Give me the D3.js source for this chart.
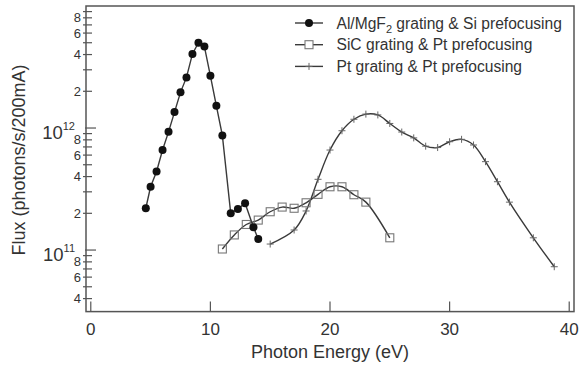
<!DOCTYPE html>
<html>
<head>
<meta charset="utf-8">
<script src="https://cdn.jsdelivr.net/npm/d3@7"></script>
<style>
  body { margin: 0; background: #fff; }
  svg { display: block; font-family: Arial, "Liberation Sans", sans-serif; }
</style>
</head>
<body>
<div id="chart"></div>
<script>
// Al/MgF2 grating & Si prefocusing
const alEnergy = [4.6, 5, 5.5, 6, 6.5, 7, 7.5, 8, 8.5, 9, 9.5, 10, 10.5, 11, 11.7, 12.3, 12.9, 13.6, 14];
const alFlux = [2.2e11, 3.3e11, 4.4e11, 6.6e11, 9.3e11, 1.35e12, 1.96e12, 2.6e12, 4.05e12, 5.0e12, 4.65e12, 2.68e12, 1.52e12, 8.7e11, 2.0e11, 2.17e11, 2.42e11, 1.54e11, 1.23e11];

// SiC grating & Pt prefocusing
const sicEnergy = [11, 12, 13, 14, 15, 16, 17, 18, 19, 20, 21, 22, 23, 25];
const sicFlux = [1.02e11, 1.33e11, 1.62e11, 1.76e11, 2.06e11, 2.25e11, 2.2e11, 2.44e11, 2.86e11, 3.3e11, 3.3e11, 2.84e11, 2.47e11, 1.26e11];

// Pt grating & Pt prefocusing
const ptEnergy = [15, 17, 18, 19, 20, 21, 22, 23, 24, 25, 26, 27, 28, 29, 30, 31, 32, 33, 34, 35, 37, 38.75];
const ptFlux = [1.12e11, 1.46e11, 2.09e11, 3.8e11, 6.6e11, 9.5e11, 1.18e12, 1.3e12, 1.28e12, 1.09e12, 9.27e11, 8.3e11, 7.1e11, 6.92e11, 7.72e11, 8.08e11, 7.26e11, 5.3e11, 3.63e11, 2.47e11, 1.26e11, 7.3e10];

const xTicks = [0, 10, 20, 30, 40];
const decadeTicks = [1e11, 1e12];
const decadeExp = ["11", "12"];
const minorLabels = [2, 4, 6, 8];

const legendLabels = ["Al/MgF", "SiC grating & Pt prefocusing", "Pt grating & Pt prefocusing"];

const width = 579, height = 368;
const margin = { top: 6, right: 5, bottom: 56.4, left: 86 };
const plotW = width - margin.left - margin.right;
const plotH = height - margin.top - margin.bottom;

const axisColor = "#555";
const lineColor = "#3a3a3a";
const textColor = "#333";

const svg = d3.select("#chart")
    .append("svg")
    .attr("width", width)
    .attr("height", height);

const g = svg.append("g")
    .attr("transform", `translate(${margin.left},${margin.top})`);

const xScale = d3.scaleLinear()
    .domain([-0.4, 40.4])
    .range([0, plotW]);

const yScale = d3.scaleLog()
    .domain([3.13e10, 1e13])
    .range([plotH, 0]);

// minor/major y ticks (inward)
const yMinor = [];
[1e10, 1e11, 1e12].forEach(dec => {
    for (let k = 1; k <= 9; k++) {
        const v = k * dec;
        if (v >= yScale.domain()[0] && v <= yScale.domain()[1]) yMinor.push({ v, k });
    }
});

g.selectAll(".ytick")
    .data(yMinor)
    .enter()
    .append("line")
    .attr("x1", d => d.k === 1 ? -1 : -3)
    .attr("x2", d => d.k === 1 ? 10 : 6)
    .attr("y1", d => yScale(d.v))
    .attr("y2", d => yScale(d.v))
    .attr("stroke", axisColor)
    .attr("stroke-width", 1.2);

g.selectAll(".ylabel-minor")
    .data(yMinor.filter(d => minorLabels.includes(d.k)))
    .enter()
    .append("text")
    .attr("x", -5)
    .attr("y", d => yScale(d.v) + 4.5)
    .attr("text-anchor", "end")
    .attr("font-size", "13px")
    .attr("fill", textColor)
    .text(d => d.k);

const decLabels = g.selectAll(".ylabel-dec")
    .data(decadeTicks)
    .enter()
    .append("text")
    .attr("x", -11)
    .attr("y", d => yScale(d) + 11)
    .attr("text-anchor", "end")
    .attr("font-size", "18.5px")
    .attr("fill", textColor);
decLabels.append("tspan").text("10");
decLabels.append("tspan")
    .attr("dy", -9)
    .attr("font-size", "11px")
    .text((d, i) => decadeExp[i]);

// x ticks (inward)
g.selectAll(".xtick")
    .data(xTicks)
    .enter()
    .append("line")
    .attr("x1", d => xScale(d))
    .attr("x2", d => xScale(d))
    .attr("y1", plotH)
    .attr("y2", plotH - 10)
    .attr("stroke", axisColor)
    .attr("stroke-width", 1.2);

g.selectAll(".xlabel")
    .data(xTicks)
    .enter()
    .append("text")
    .attr("x", d => xScale(d))
    .attr("y", plotH + 23.5)
    .attr("text-anchor", "middle")
    .attr("font-size", "17px")
    .attr("fill", textColor)
    .text(d => d);

// frame
g.append("rect")
    .attr("width", plotW)
    .attr("height", plotH)
    .attr("fill", "none")
    .attr("stroke", axisColor)
    .attr("stroke-width", 1.5);

// axis titles
svg.append("text")
    .attr("x", margin.left + xScale(20))
    .attr("y", 358)
    .attr("text-anchor", "middle")
    .attr("font-size", "18px")
    .attr("fill", textColor)
    .text("Photon Energy (eV)");

svg.append("text")
    .attr("transform", "translate(25,160) rotate(-90)")
    .attr("text-anchor", "middle")
    .attr("font-size", "18px")
    .attr("fill", textColor)
    .text("Flux (photons/s/200mA)");

// series
const toPoints = (xs, ys) => xs.map((x, i) => ({ x, y: ys[i] }));
const alData = toPoints(alEnergy, alFlux);
const sicData = toPoints(sicEnergy, sicFlux);
const ptData = toPoints(ptEnergy, ptFlux);

const straight = d3.line().x(d => xScale(d.x)).y(d => yScale(d.y));
const smooth = d3.line().x(d => xScale(d.x)).y(d => yScale(d.y)).curve(d3.curveCatmullRom.alpha(0.5));

g.append("path")
    .datum(ptData)
    .attr("d", smooth)
    .attr("fill", "none")
    .attr("stroke", lineColor)
    .attr("stroke-width", 1.4);

g.selectAll(".pt")
    .data(ptData)
    .enter()
    .append("path")
    .attr("d", d => {
        const cx = xScale(d.x), cy = yScale(d.y);
        return `M${cx - 3.5},${cy}H${cx + 3.5}M${cx},${cy - 3.5}V${cy + 3.5}`;
    })
    .attr("stroke", "#666")
    .attr("stroke-width", 1);

g.append("path")
    .datum(sicData)
    .attr("d", smooth)
    .attr("fill", "none")
    .attr("stroke", lineColor)
    .attr("stroke-width", 1.4);

g.selectAll(".sic")
    .data(sicData)
    .enter()
    .append("rect")
    .attr("x", d => xScale(d.x) - 4)
    .attr("y", d => yScale(d.y) - 4)
    .attr("width", 8)
    .attr("height", 8)
    .attr("fill", "none")
    .attr("stroke", "#777")
    .attr("stroke-width", 1.1);

g.append("path")
    .datum(alData)
    .attr("d", straight)
    .attr("fill", "none")
    .attr("stroke", lineColor)
    .attr("stroke-width", 1.4);

g.selectAll(".al")
    .data(alData)
    .enter()
    .append("circle")
    .attr("cx", d => xScale(d.x))
    .attr("cy", d => yScale(d.y))
    .attr("r", 4)
    .attr("fill", "#111");

// legend
const legend = svg.append("g").attr("transform", "translate(295,23)");
const rowGap = 21.7;
[0, 1, 2].forEach(i => {
    const row = legend.append("g").attr("transform", `translate(0,${i * rowGap})`);
    row.append("line")
        .attr("x1", 0).attr("x2", 28)
        .attr("stroke", lineColor)
        .attr("stroke-width", 1.4);
    if (i === 0) {
        row.append("circle").attr("cx", 14).attr("r", 4).attr("fill", "#111");
    } else if (i === 1) {
        row.append("rect").attr("x", 10).attr("y", -4).attr("width", 8).attr("height", 8)
            .attr("fill", "#fff").attr("stroke", "#777").attr("stroke-width", 1.1);
    } else {
        row.append("path").attr("d", "M10.5,0H17.5M14,-3.5V3.5").attr("stroke", "#666");
    }
    const t = row.append("text")
        .attr("x", 41.5)
        .attr("y", 5.5)
        .attr("font-size", "15.6px")
        .attr("fill", textColor);
    if (i === 0) {
        t.append("tspan").text(legendLabels[0]);
        t.append("tspan").attr("dy", 4).attr("font-size", "11px").text("2");
        t.append("tspan").attr("dy", -4).text(" grating & Si prefocusing");
    } else {
        t.text(legendLabels[i]);
    }
});
</script>
</body>
</html>
